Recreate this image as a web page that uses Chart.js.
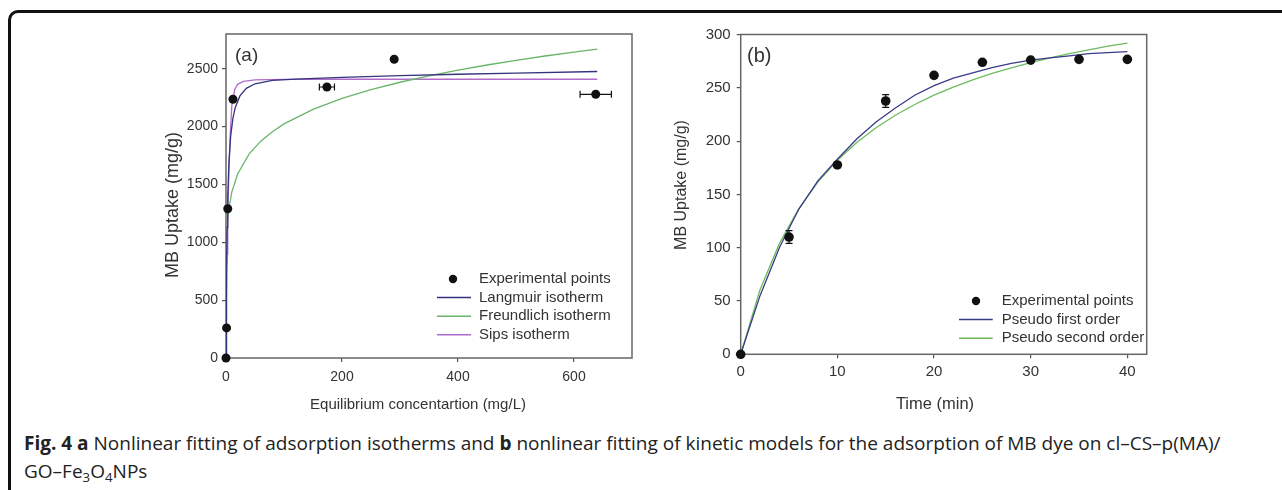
<!DOCTYPE html>
<html>
<head>
<meta charset="utf-8">
<script src="https://cdn.jsdelivr.net/npm/chart.js@4.4.1/dist/chart.umd.min.js"></script>
<style>
html,body{margin:0;padding:0;background:#fff;width:1282px;height:490px;overflow:hidden;}
#frame{position:absolute;left:8px;top:10px;width:1400px;height:600px;border:3px solid #111;border-radius:10px;box-sizing:border-box;}
#ca{position:absolute;left:140px;top:0;}
#cb{position:absolute;left:650px;top:0;}
#caption{position:absolute;left:24px;top:429px;font-family:"Open Sans",sans-serif;font-size:19px;line-height:28.4px;color:#222;white-space:nowrap;}
#caption b{font-weight:700;}
#caption sub{font-size:70%;vertical-align:-0.3em;line-height:0;}
</style>
</head>
<body>
<div id="frame"></div>
<canvas id="ca" width="520" height="420"></canvas>
<canvas id="cb" width="540" height="420"></canvas>
<div id="caption"><b>Fig. 4 a</b> Nonlinear fitting of adsorption isotherms and <b>b</b> nonlinear fitting of kinetic models for the adsorption of MB dye on cl–CS–p(MA)/<br>GO–Fe<sub>3</sub>O<sub>4</sub>NPs</div>
<script>
// ---------- Panel (a): adsorption isotherms ----------
const isoExpC   = [0, 1, 3, 12, 174, 290, 637.5];
const isoExpQ   = [0, 260, 1290, 2236, 2342, 2582, 2279];
const isoExpErrC = [0, 0, 0, 0, 13, 0, 27];

const langC = [0, 0.5, 1, 2, 3, 5, 8, 12, 16, 24, 35, 50, 80, 120, 200, 300, 400, 500, 640];
const langQ = [0, 430, 730, 1130, 1385, 1685, 1915, 2075, 2165, 2265, 2330, 2370, 2400, 2410, 2425, 2440, 2452, 2462, 2476];

const freC = [3, 5, 10, 20, 40, 60, 80, 100, 150, 200, 250, 300, 350, 400, 450, 500, 550, 600, 640];
const freQ = [1200, 1292, 1434, 1590, 1764, 1874, 1956, 2023, 2149, 2243, 2319, 2383, 2439, 2488, 2532, 2573, 2610, 2644, 2669];

const sipsC = [0, 1, 2, 3, 5, 7, 10, 15, 20, 30, 50, 100, 200, 640];
const sipsQ = [0, 500, 900, 1250, 1600, 1900, 2180, 2320, 2365, 2390, 2403, 2408, 2409, 2409];

const xTicksA = [0, 200, 400, 600];
const yTicksA = [0, 500, 1000, 1500, 2000, 2500];

// ---------- Panel (b): kinetics ----------
const kinT   = [0, 5, 10, 15, 20, 25, 30, 35, 40];
const kinQ   = [0, 110, 177.6, 237.6, 261.7, 273.9, 276, 276.7, 276.7];
const kinErr = [0, 6, 2, 6, 0, 0, 0, 0, 0];

const fitT = [0, 2, 4, 6, 8, 10, 12, 14, 16, 18, 20, 22, 24, 26, 28, 30, 32, 34, 36, 38, 40];
const pfoQ = [0, 55, 100, 136, 163, 183, 202, 218, 231, 243, 252, 259, 264, 269, 273, 276, 278, 280, 282, 283, 284];
const psoQ = [0, 60.5, 103.8, 136.4, 161.7, 182.0, 198.7, 212.5, 224.3, 234.3, 243.1, 250.7, 257.5, 263.5, 268.8, 273.7, 278.0, 282.0, 285.6, 289.0, 292.0];

const xTicksB = [0, 10, 20, 30, 40];
const yTicksB = [0, 50, 100, 150, 200, 250, 300];

// ---------- helpers ----------
const FONT = '"Liberation Sans", Arial, sans-serif';
function pts(xs, ys) { return xs.map((x, i) => ({ x: x, y: ys[i] })); }

const framePlugin = {
  id: 'plotFrame',
  beforeDatasetsDraw(chart) {
    const { ctx, chartArea: a } = chart;
    ctx.save();
    ctx.strokeStyle = '#666';
    ctx.lineWidth = 1.5;
    ctx.strokeRect(a.left, a.top, a.right - a.left, a.bottom - a.top);
    ctx.restore();
  }
};

const errorBarPlugin = {
  id: 'errorBars',
  afterDatasetsDraw(chart) {
    const { ctx } = chart;
    const xs = chart.scales.x, ys = chart.scales.y;
    chart.data.datasets.forEach(ds => {
      if (!ds.errX && !ds.errY) return;
      ctx.save();
      ctx.strokeStyle = '#111';
      ctx.lineWidth = 1.2;
      ds.data.forEach((p, i) => {
        const px = xs.getPixelForValue(p.x), py = ys.getPixelForValue(p.y);
        const ex = ds.errX ? ds.errX[i] : 0;
        const ey = ds.errY ? ds.errY[i] : 0;
        ctx.beginPath();
        if (ex > 0) {
          const l = xs.getPixelForValue(p.x - ex), r = xs.getPixelForValue(p.x + ex);
          ctx.moveTo(l, py); ctx.lineTo(r, py);
          ctx.moveTo(l, py - 3.5); ctx.lineTo(l, py + 3.5);
          ctx.moveTo(r, py - 3.5); ctx.lineTo(r, py + 3.5);
        }
        if (ey > 0) {
          const t = ys.getPixelForValue(p.y + ey), b = ys.getPixelForValue(p.y - ey);
          ctx.moveTo(px, t); ctx.lineTo(px, b);
          ctx.moveTo(px - 3.5, t); ctx.lineTo(px + 3.5, t);
          ctx.moveTo(px - 3.5, b); ctx.lineTo(px + 3.5, b);
        }
        ctx.stroke();
      });
      ctx.restore();
    });
  }
};

const legendPlugin = {
  id: 'innerLegend',
  afterDraw(chart, args, o) {
    const { ctx } = chart;
    ctx.save();
    ctx.font = o.fontSize + 'px ' + FONT;
    ctx.textBaseline = 'middle';
    ctx.textAlign = 'left';
    chart.data.datasets.forEach((ds, i) => {
      const y = o.y + i * o.dy;
      if (ds.showLine === false) {
        ctx.fillStyle = ds.backgroundColor;
        ctx.beginPath();
        ctx.arc(o.markX, y, 4.2, 0, Math.PI * 2);
        ctx.fill();
      } else {
        ctx.strokeStyle = ds.borderColor;
        ctx.lineWidth = 1.5;
        ctx.beginPath();
        ctx.moveTo(o.lineX1, y); ctx.lineTo(o.lineX2, y);
        ctx.stroke();
      }
      ctx.fillStyle = '#333';
      ctx.fillText(ds.label, o.textX, y);
    });
    // panel letter
    ctx.font = o.tagSize + 'px ' + FONT;
    ctx.fillStyle = '#333';
    ctx.fillText(o.tag, o.tagX, o.tagY);
    // axis titles
    ctx.textAlign = 'center';
    o.titles.forEach(t => {
      ctx.save();
      ctx.font = t.size + 'px ' + FONT;
      ctx.translate(t.x, t.y);
      if (t.rot) ctx.rotate(-Math.PI / 2);
      ctx.fillText(t.text, 0, 0);
      ctx.restore();
    });
    ctx.restore();
  }
};

function axis(min, max, ticks, o) {
  return {
    type: 'linear', min: min, max: max,
    afterBuildTicks: ax => { ax.ticks = ticks.map(v => ({ value: v })); },
    afterFit: ax => {
      if (o.width != null) ax.width = o.width;
      if (o.height != null) ax.height = o.height;
    },
    grid: { drawOnChartArea: false, drawTicks: true, tickLength: 4, color: '#555', lineWidth: 1.2 },
    border: { display: false },
    ticks: {
      color: '#333', font: { family: FONT, size: o.tickSize }, padding: o.pad,
      autoSkip: false, maxRotation: 0, callback: v => String(v)
    },
    title: { display: false }
  };
}

function lineDs(label, xs, ys, color) {
  return {
    label: label, data: pts(xs, ys), showLine: true, borderColor: color,
    backgroundColor: color, borderWidth: 1.3, pointRadius: 0, pointHoverRadius: 0,
    tension: 0, fill: false
  };
}

Chart.defaults.animation = false;

// ---------- Chart (a) ----------
new Chart(document.getElementById('ca'), {
  type: 'scatter',
  data: {
    datasets: [
      { label: 'Experimental points', data: pts(isoExpC, isoExpQ), errX: isoExpErrC, showLine: false,
        backgroundColor: '#111', borderColor: '#111', pointRadius: 4.5, pointBorderWidth: 0, clip: false },
      lineDs('Langmuir isotherm', langC, langQ, '#34337e'),
      lineDs('Freundlich isotherm', freC, freQ, '#6ab56a'),
      lineDs('Sips isotherm', sipsC, sipsQ, '#b06ccb')
    ]
  },
  options: {
    responsive: false, animation: false,
    layout: { padding: { left: 0, top: 34, right: 28, bottom: 0 } },
    plugins: {
      legend: { display: false }, tooltip: { enabled: false },
      innerLegend: { fontSize: 15, y: 279, dy: 18.6, markX: 313, lineX1: 297, lineX2: 331, textX: 339,
                     tag: '(a)', tagSize: 19, tagX: 95, tagY: 56,
                     titles: [
                       { text: 'Equilibrium concentartion (mg/L)', x: 278, y: 405, size: 15, rot: false },
                       { text: 'MB Uptake (mg/g)', x: 33.5, y: 205, size: 18, rot: true }
                     ] }
    },
    scales: {
      x: axis(0, 700, xTicksA, { height: 62, tickSize: 14, pad: 7 }),
      y: axis(0, 2800, yTicksA, { width: 86, tickSize: 14, pad: 4 })
    }
  },
  plugins: [framePlugin, errorBarPlugin, legendPlugin]
});

// ---------- Chart (b) ----------
new Chart(document.getElementById('cb'), {
  type: 'scatter',
  data: {
    datasets: [
      { label: 'Experimental points', data: pts(kinT, kinQ), errY: kinErr, showLine: false,
        backgroundColor: '#111', borderColor: '#111', pointRadius: 4.8, pointBorderWidth: 0, clip: false },
      lineDs('Pseudo first order', fitT, pfoQ, '#3a3a8a'),
      lineDs('Pseudo second order', fitT, psoQ, '#6dbb5f')
    ]
  },
  options: {
    responsive: false, animation: false,
    layout: { padding: { left: 0, top: 34.5, right: 43.3, bottom: 0 } },
    plugins: {
      legend: { display: false }, tooltip: { enabled: false },
      innerLegend: { fontSize: 15, y: 301, dy: 18.6, markX: 326, lineX1: 309, lineX2: 342.7, textX: 351.7,
                     tag: '(b)', tagSize: 20, tagX: 97, tagY: 56,
                     titles: [
                       { text: 'Time (min)', x: 285, y: 404, size: 16.5, rot: false },
                       { text: 'MB Uptake (mg/g)', x: 32, y: 185, size: 16, rot: true }
                     ] }
    },
    scales: {
      x: axis(0, 42, xTicksB, { height: 65.7, tickSize: 15, pad: 5 }),
      y: axis(0, 300, yTicksB, { width: 90.7, tickSize: 15, pad: 6 })
    }
  },
  plugins: [framePlugin, errorBarPlugin, legendPlugin]
});
</script>
</body>
</html>
